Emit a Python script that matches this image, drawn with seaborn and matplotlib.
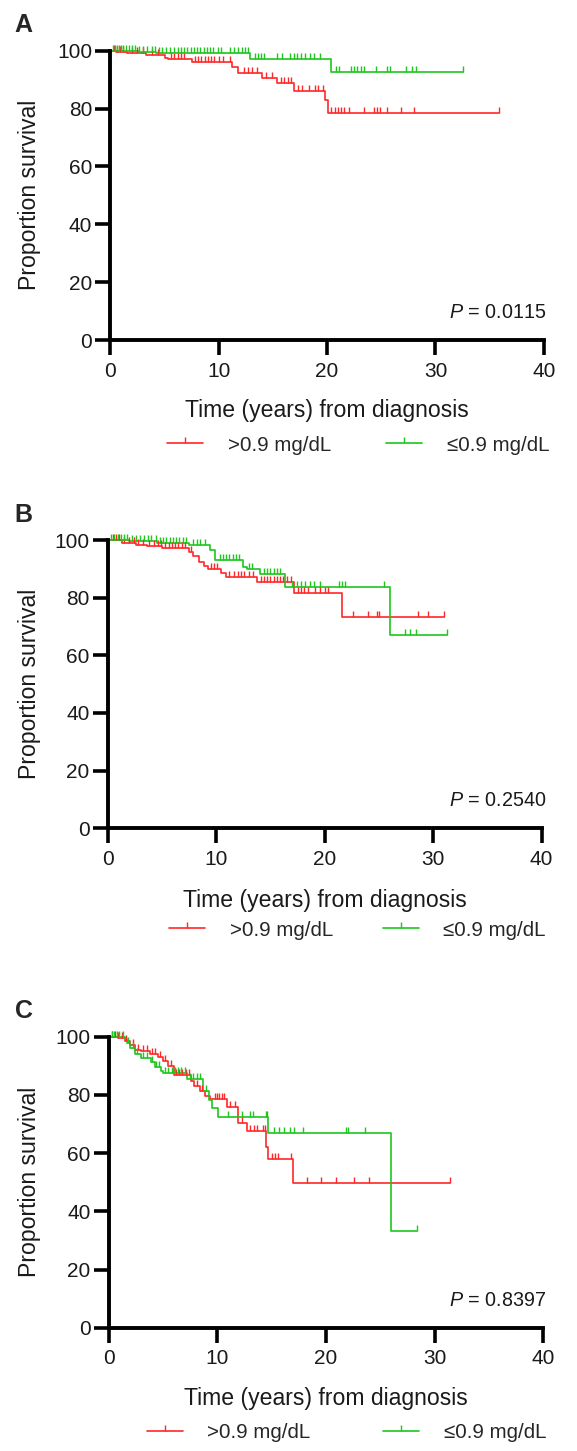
import numpy as np
import pandas as pd
import matplotlib
matplotlib.use("Agg")
import matplotlib.pyplot as plt
from matplotlib.lines import Line2D
import seaborn as sns

sns.set_style("ticks")
plt.rcParams["font.family"] = ["Liberation Sans", "DejaVu Sans"]
plt.rcParams["mathtext.fontset"] = "custom"
plt.rcParams["mathtext.rm"] = "Liberation Sans"
plt.rcParams["mathtext.it"] = "Liberation Sans:italic"

W, H = 577, 1451
RED = "#FF2828"
GREEN = "#1EC61E"

# ---- data (years, % surviving) ----
# Panel A
a_red_t = [0, 0.5, 1.5, 3.3, 5.0, 5.3, 7.5, 11.2, 11.8, 14.0, 15.4, 16.9, 19.8, 20.1, 35.9]
a_red_s = [100, 99.7, 99.1, 98.5, 97.4, 97.0, 96.2, 94.5, 92.3, 90.5, 88.7, 86.2, 83.0, 78.6, 78.6]
a_red_cens = [0.3, 0.6, 0.9, 1.2, 2.0, 2.5, 3.0, 3.8, 4.4, 5.6, 5.9, 6.2, 6.5, 6.8,
              7.8, 8.1, 8.4, 8.7, 9.0, 9.3, 9.6, 10.0, 10.4, 11.0, 12.3, 12.7, 13.1, 13.5,
              14.4, 14.9, 15.7, 16.0, 16.4, 16.7, 17.3, 17.7, 18.3, 18.9, 19.2, 19.6,
              20.4, 20.7, 21.0, 21.3, 21.6, 22.0, 23.4, 24.3, 24.6, 24.9, 25.5, 26.8, 28.0, 35.9]
a_green_t = [0, 2.6, 4.2, 12.9, 20.4, 32.5]
a_green_s = [100, 99.7, 99.1, 97.0, 92.5, 92.5]
a_green_cens = [0.2, 0.4, 0.6, 0.8, 1.0, 1.2, 1.4, 1.7, 2.0, 2.3, 2.6, 3.0, 3.4, 3.8, 4.1,
                4.5, 4.8, 5.1, 5.5, 5.9, 6.2, 6.5, 6.8, 7.1, 7.4, 7.7, 8.0, 8.3, 8.6, 8.9,
                9.2, 9.5, 9.9, 10.2, 11.0, 11.4, 11.8, 12.1, 12.4, 12.7, 13.3, 13.6, 13.9,
                14.2, 15.4, 15.8, 16.6, 16.9, 17.2, 17.6, 18.0, 18.4, 18.8, 19.3, 20.8,
                21.1, 22.2, 22.5, 22.8, 23.1, 23.4, 24.5, 25.5, 25.8, 27.3, 27.8, 28.2, 32.5]
a_p = "0.0115"

# Panel B
b_red_t = [0, 1.3, 2.6, 3.6, 5.0, 7.5, 7.9, 8.4, 8.9, 9.2, 10.4, 10.9, 13.8, 17.2, 21.6, 31.0]
b_red_s = [100, 99.1, 98.3, 97.9, 97.1, 96.0, 94.5, 92.5, 91.0, 89.8, 88.7, 87.3, 85.5, 81.5, 73.4, 73.4]
b_red_cens = [0.5, 0.8, 1.0, 1.5, 2.0, 2.4, 2.8, 3.2, 3.8, 4.3, 4.6, 4.9, 5.3, 5.6, 5.9, 6.2,
              6.5, 6.8, 7.1, 7.7, 9.5, 9.8, 10.1, 11.2, 11.6, 12.0, 12.3, 12.6, 13.0, 13.4,
              14.1, 14.4, 14.7, 15.0, 15.3, 15.6, 15.9, 16.2, 16.5, 16.9, 17.5, 17.8, 18.1,
              18.5, 19.1, 19.6, 20.0, 20.3, 22.6, 24.0, 24.8, 25.0, 28.6, 29.5, 31.0]
b_green_t = [0, 2.0, 4.5, 7.5, 9.4, 9.9, 12.5, 12.8, 14.0, 16.3, 26.0, 31.3]
b_green_s = [100, 99.5, 98.9, 98.2, 96.6, 93.2, 90.7, 89.8, 88.2, 83.8, 67.0, 67.0]
b_green_cens = [0.3, 0.6, 0.9, 1.2, 1.5, 1.8, 2.2, 2.6, 3.0, 3.3, 3.7, 4.0, 4.4, 4.8, 5.1,
                5.4, 5.7, 6.0, 6.3, 6.6, 6.9, 7.2, 7.9, 8.2, 8.5, 9.0, 10.3, 10.6, 10.9,
                11.2, 11.5, 11.8, 12.1, 13.0, 13.3, 14.4, 14.7, 15.0, 15.3, 15.6, 15.9,
                17.0, 17.4, 17.8, 18.2, 18.6, 19.0, 19.6, 21.3, 21.6, 21.9, 25.5, 27.4,
                27.9, 28.4, 31.3]
b_p = "0.2540"

# Panel C
c_red_t = [0, 0.9, 1.5, 2.0, 2.4, 3.0, 3.8, 4.5, 5.0, 5.5, 6.0, 7.6, 7.9, 8.4, 8.9, 9.3,
           10.9, 11.9, 12.7, 14.5, 14.7, 17.0, 31.4]
c_red_s = [100, 99.4, 98.5, 97.0, 95.5, 95.0, 94.2, 93.0, 91.5, 89.8, 86.9, 84.8, 83.0,
           81.5, 79.8, 78.5, 75.9, 70.3, 67.5, 62.2, 58.0, 49.8, 49.8]
c_red_cens = [0.3, 0.6, 0.9, 1.2, 1.6, 2.2, 2.7, 3.2, 3.5, 4.0, 4.3, 4.7, 5.2, 5.7, 6.2,
              6.5, 6.8, 7.1, 7.4, 8.1, 8.6, 9.8, 10.0, 10.2, 10.4, 10.6, 11.2, 11.6, 12.3,
              13.0, 13.4, 13.7, 14.2, 14.4, 15.0, 15.3, 15.6, 16.8, 18.3, 19.5, 20.9,
              22.6, 24.0, 31.4]
c_green_t = [0, 1.5, 1.7, 2.0, 2.4, 3.0, 3.9, 4.3, 4.8, 5.0, 7.2, 8.7, 9.2, 9.5, 10.1,
             14.7, 26.0, 28.4]
c_green_s = [100, 99.2, 97.7, 96.0, 93.9, 92.6, 91.3, 89.7, 88.3, 87.4, 85.4, 81.3, 78.3,
             75.4, 72.4, 67.0, 33.3, 33.3]
c_green_cens = [0.3, 0.5, 0.8, 1.0, 1.3, 1.8, 2.2, 2.6, 3.2, 3.5, 4.0, 4.4, 4.6, 5.2, 5.5,
                5.8, 6.1, 6.4, 6.7, 7.0, 7.5, 7.8, 8.1, 8.4, 9.0, 11.0, 12.3, 13.0, 13.3,
                14.5, 14.6, 15.2, 15.7, 16.1, 16.7, 17.1, 17.9, 21.8, 22.0, 23.6, 28.4]
c_p = "0.8397"

group_labels = [">0.9 mg/dL", "≤0.9 mg/dL"]
x_ticks = [0, 10, 20, 30, 40]
y_ticks = [0, 20, 40, 60, 80, 100]

# ---- layout in pixels of the 577x1451 image ----
panels = [
    dict(letter="A", box=(110.4, 543.8, 50.7, 340.0), letter_y=31.7, xlab_y=410, p_y=313,
         red=(a_red_t, a_red_s, a_red_cens), green=(a_green_t, a_green_s, a_green_cens),
         p=a_p, leg_y=445, leg_red=167.4, leg_green=386.3),
    dict(letter="B", box=(107.8, 541.6, 540.0, 828.3), letter_y=521.5, xlab_y=900, p_y=800,
         red=(b_red_t, b_red_s, b_red_cens), green=(b_green_t, b_green_s, b_green_cens),
         p=b_p, leg_y=930, leg_red=169.2, leg_green=382.6),
    dict(letter="C", box=(108.6, 543.3, 1036.7, 1327.9), letter_y=1017.5, xlab_y=1398.3, p_y=1300,
         red=(c_red_t, c_red_s, c_red_cens), green=(c_green_t, c_green_s, c_green_cens),
         p=c_p, leg_y=1433, leg_red=146.7, leg_green=383.3),
]


def km_curve(ax, t, s, cens, color):
    df = pd.DataFrame({"time": t, "surv": s})
    sns.lineplot(data=df, x="time", y="surv", drawstyle="steps-post", estimator=None,
                 color=color, lw=1.2, ax=ax, clip_on=False)
    idx = np.searchsorted(np.asarray(t), np.asarray(cens), side="right") - 1
    cy = np.asarray(s)[idx]
    sns.scatterplot(x=cens, y=cy, marker=2, s=18, color=color, linewidth=1.0,
                    ax=ax, clip_on=False, zorder=3)


fig = plt.figure(figsize=(W / 100, H / 100), dpi=100)

for pn in panels:
    x0, x1, ytop, ybot = pn["box"]
    ax = fig.add_axes([x0 / W, 1 - ybot / H, (x1 - x0) / W, (ybot - ytop) / H])
    km_curve(ax, *pn["red"], RED)
    km_curve(ax, *pn["green"], GREEN)

    ax.set_xlim(0, 40)
    ax.set_ylim(0, 100)
    ax.set_xticks(x_ticks)
    ax.set_yticks(y_ticks)
    sns.despine(ax=ax)
    for side in ["left", "bottom"]:
        ax.spines[side].set_linewidth(2.8)
        ax.spines[side].set_color("black")
    ax.tick_params(axis="both", length=10.5, width=2.6, color="black", labelsize=15,
                   labelcolor="#1a1a1a")
    ax.tick_params(axis="x", pad=5)
    ax.tick_params(axis="y", pad=2.5)

    ax.set_xlabel("Time (years) from diagnosis", fontsize=16.6, va="center", color="#1a1a1a")
    ax.set_ylabel("Proportion survival", fontsize=16.6, va="center", color="#1a1a1a")
    ax.xaxis.set_label_coords(0.5, (ybot - pn["xlab_y"]) / (ybot - ytop))
    ax.yaxis.set_label_coords((29.4 - x0) / (x1 - x0), 0.5)

    ax.text((546.0 - x0) / (x1 - x0), (ybot - pn["p_y"]) / (ybot - ytop),
            r"$P$ = " + pn["p"], transform=ax.transAxes, ha="right", va="center",
            fontsize=14.2, color="#1a1a1a")

    fig.text(14.7 / W, 1 - pn["letter_y"] / H, pn["letter"], fontsize=18,
             fontweight="bold", va="baseline", ha="left")

    for lab, col, lx in zip(group_labels, [RED, GREEN], [pn["leg_red"], pn["leg_green"]]):
        h = Line2D([], [], color=col, lw=1.2, marker=2, markersize=4, markeredgewidth=1.0)
        fig.legend([h], [lab], loc="center left", bbox_to_anchor=(lx / W, 1 - pn["leg_y"] / H),
                   frameon=False, borderpad=0, borderaxespad=0, handlelength=1.75,
                   handletextpad=1.2, fontsize=14.8, numpoints=1)

fig.savefig("out.png", dpi=100)
